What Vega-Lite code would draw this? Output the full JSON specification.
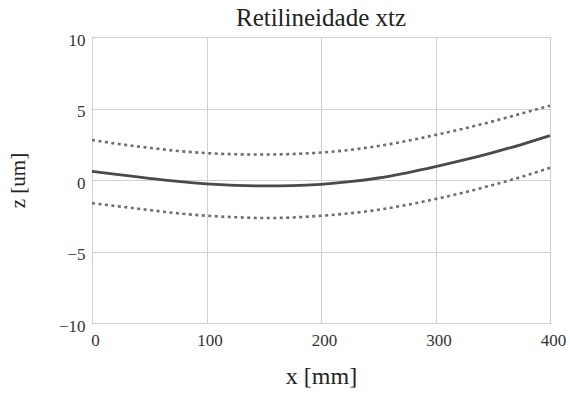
{
  "$schema": "https://vega.github.io/schema/vega-lite/v6.json",
  "autosize": "none",
  "width": 458,
  "height": 286,
  "padding": {"left": 92, "top": 37, "right": 20, "bottom": 71},
  "background": "white",
  "title": {"text": "Retilineidade xtz", "font": "'Times New Roman', 'Liberation Serif', 'DejaVu Serif', serif", "fontSize": 25, "fontWeight": "normal", "color": "#222", "anchor": "middle", "offset": 0},
  "config": {
    "view": {"stroke": "#888", "strokeWidth": 1},
    "axis": {"labelColor": "#333", "titleColor": "#222", "gridColor": "#d0d0d0", "gridWidth": 1, "domain": false, "ticks": false}
  },
  "data": {"values": [
    {"x": 0, "z": 0.6, "s": "med"}, {"x": 25, "z": 0.36, "s": "med"}, {"x": 50, "z": 0.12, "s": "med"}, {"x": 75, "z": -0.1, "s": "med"}, {"x": 100, "z": -0.27, "s": "med"}, {"x": 125, "z": -0.37, "s": "med"}, {"x": 150, "z": -0.41, "s": "med"}, {"x": 175, "z": -0.39, "s": "med"}, {"x": 200, "z": -0.3, "s": "med"}, {"x": 225, "z": -0.12, "s": "med"}, {"x": 250, "z": 0.14, "s": "med"}, {"x": 275, "z": 0.5, "s": "med"}, {"x": 300, "z": 0.93, "s": "med"}, {"x": 325, "z": 1.4, "s": "med"}, {"x": 350, "z": 1.92, "s": "med"}, {"x": 375, "z": 2.48, "s": "med"}, {"x": 400, "z": 3.1, "s": "med"},
    {"x": 0, "z": 2.8, "s": "sup"}, {"x": 25, "z": 2.5, "s": "sup"}, {"x": 50, "z": 2.25, "s": "sup"}, {"x": 75, "z": 2.03, "s": "sup"}, {"x": 100, "z": 1.88, "s": "sup"}, {"x": 125, "z": 1.8, "s": "sup"}, {"x": 150, "z": 1.78, "s": "sup"}, {"x": 175, "z": 1.82, "s": "sup"}, {"x": 200, "z": 1.92, "s": "sup"}, {"x": 225, "z": 2.1, "s": "sup"}, {"x": 250, "z": 2.38, "s": "sup"}, {"x": 275, "z": 2.73, "s": "sup"}, {"x": 300, "z": 3.15, "s": "sup"}, {"x": 325, "z": 3.6, "s": "sup"}, {"x": 350, "z": 4.1, "s": "sup"}, {"x": 375, "z": 4.65, "s": "sup"}, {"x": 400, "z": 5.2, "s": "sup"},
    {"x": 0, "z": -1.62, "s": "inf"}, {"x": 25, "z": -1.86, "s": "inf"}, {"x": 50, "z": -2.1, "s": "inf"}, {"x": 75, "z": -2.33, "s": "inf"}, {"x": 100, "z": -2.5, "s": "inf"}, {"x": 125, "z": -2.6, "s": "inf"}, {"x": 150, "z": -2.66, "s": "inf"}, {"x": 175, "z": -2.62, "s": "inf"}, {"x": 200, "z": -2.5, "s": "inf"}, {"x": 225, "z": -2.33, "s": "inf"}, {"x": 250, "z": -2.08, "s": "inf"}, {"x": 275, "z": -1.74, "s": "inf"}, {"x": 300, "z": -1.33, "s": "inf"}, {"x": 325, "z": -0.87, "s": "inf"}, {"x": 350, "z": -0.35, "s": "inf"}, {"x": 375, "z": 0.22, "s": "inf"}, {"x": 400, "z": 0.85, "s": "inf"}
  ]},
  "layer": [
    {
      "transform": [{"filter": "datum.s !== 'med'"}],
      "mark": {"type": "line", "color": "#6e6e6e", "strokeWidth": 2.6, "strokeDash": [3, 3.5], "interpolate": "monotone"},
      "encoding": {
        "x": {"field": "x", "type": "quantitative", "scale": {"domain": [0, 400], "nice": false}, "axis": {"values": [0, 100, 200, 300, 400], "format": "d", "title": "x [mm]", "titleFont": "'Times New Roman', 'Liberation Serif', 'DejaVu Serif', serif", "titleFontSize": 24, "titleFontWeight": "normal", "titlePadding": 16, "labelFont": "'Times New Roman', 'Liberation Serif', 'DejaVu Serif', serif", "labelFontSize": 17, "labelPadding": 9, "labelAlign": "center", "labelOffset": 3, "labelOverlap": false, "labelBound": false, "labelFlush": false}},
        "y": {"field": "z", "type": "quantitative", "scale": {"domain": [-10, 10], "nice": false}, "axis": {"values": [-10, -5, 0, 5, 10], "format": "d", "title": "z [um]", "titleFont": "'Times New Roman', 'Liberation Serif', 'DejaVu Serif', serif", "titleFontSize": 21, "titleFontWeight": "normal", "titlePadding": 30, "labelFont": "'Times New Roman', 'Liberation Serif', 'DejaVu Serif', serif", "labelFontSize": 17, "labelPadding": 7, "labelBaseline": "middle", "labelOffset": 3, "labelBound": false, "labelFlush": false}},
        "detail": {"field": "s"}
      }
    },
    {
      "transform": [{"filter": "datum.s === 'med'"}],
      "mark": {"type": "line", "color": "#4a4a4a", "strokeWidth": 2.8, "interpolate": "monotone"},
      "encoding": {
        "x": {"field": "x", "type": "quantitative"},
        "y": {"field": "z", "type": "quantitative"}
      }
    }
  ]
}
